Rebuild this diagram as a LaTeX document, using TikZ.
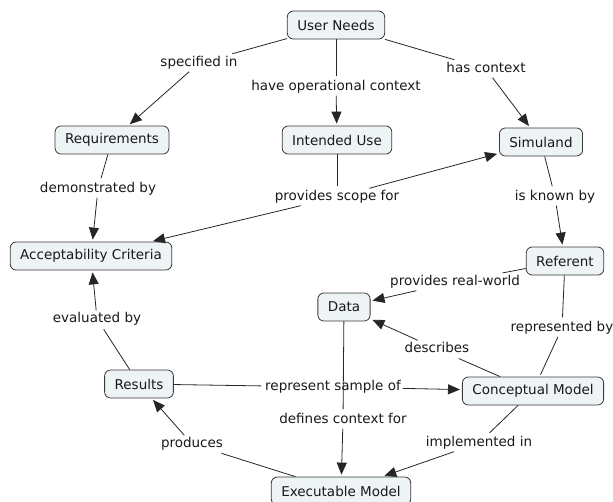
\documentclass[tikz,border=0pt]{standalone}
\usepackage{fontspec}
\setmainfont{DejaVu Sans}
\usetikzlibrary{arrows.meta}
\definecolor{conceptfill}{HTML}{EEF3F6}
\definecolor{conceptline}{HTML}{3A3A3A}
\definecolor{linkline}{HTML}{262626}

\begin{document}
\begin{tikzpicture}[x=1pt, y=-1pt, >={Triangle[length=12pt,width=10pt]},
    concept/.style={draw=conceptline, fill=conceptfill, rounded corners=6pt,
        inner xsep=10pt, minimum height=28pt, line width=0.8pt,
        font=\fontsize{13.5}{16}\selectfont, text=black!90},
    phrase/.style={inner sep=2pt, text height=10pt, text depth=3pt,
        font=\fontsize{13.5}{16}\selectfont, text=black!90},
    link/.style={draw=linkline, line width=0.8pt, shorten >=2pt}]
    \useasboundingbox (0,0) rectangle (613,501);
    % concepts
    \node[concept] (needs) at (336,25) {User Needs};
    \node[concept] (req) at (112,140) {Requirements};
    \node[concept] (use) at (337,140) {Intended Use};
    \node[concept] (simuland) at (541,142) {Simuland};
    \node[concept] (accept) at (91,256) {Acceptability Criteria};
    \node[concept] (referent) at (565,261) {Referent};
    \node[concept] (data) at (344,307) {Data};
    \node[concept] (results) at (139,384) {Results};
    \node[concept] (cmodel) at (533,391) {Conceptual Model};
    \node[concept] (exec) at (341,491) {Executable Model};
    % linking phrases
    \node[phrase] (specified) at (199,63) {specified in};
    \node[phrase] (operational) at (336,87) {have operational context};
    \node[phrase] (hascontext) at (486,69) {has context};
    \node[phrase] (demonstrated) at (98,189) {demonstrated by};
    \node[phrase] (scope) at (337,197) {provides scope for};
    \node[phrase] (knownby) at (555,197) {is known by};
    \node[phrase] (realworld) at (455,282) {provides real-world};
    \node[phrase] (evaluated) at (97,319) {evaluated by};
    \node[phrase] (represented) at (562,328) {represented by};
    \node[phrase] (describes) at (437,349) {describes};
    \node[phrase] (sample) at (333,387) {represent sample of};
    \node[phrase] (defines) at (343,420) {defines context for};
    \node[phrase] (produces) at (192,444) {produces};
    \node[phrase] (implemented) at (479,443) {implemented in};
    % connections
    \draw[link] (needs) -- (specified);
    \draw[link,->] (specified) -- (req);
    \draw[link] (needs) -- (operational);
    \draw[link,->] (operational) -- (use);
    \draw[link] (needs) -- (hascontext);
    \draw[link,->] (hascontext) -- (simuland);
    \draw[link] (req) -- (demonstrated);
    \draw[link,->] (demonstrated) -- (accept);
    \draw[link] (use) -- (scope);
    \draw[link,->] (scope) -- (simuland);
    \draw[link,->] (scope) -- (accept);
    \draw[link] (simuland) -- (knownby);
    \draw[link,->] (knownby) -- (referent);
    \draw[link] (referent) -- (realworld);
    \draw[link,->] (realworld) -- (data);
    \draw[link] (referent) -- (represented);
    \draw[link] (represented) -- (cmodel);
    \draw[link] (cmodel) -- (describes);
    \draw[link,->] (describes) -- (data);
    \draw[link] (results) -- (evaluated);
    \draw[link,->] (evaluated) -- (accept);
    \draw[link] (results) -- (sample);
    \draw[link,->] (sample) -- (cmodel);
    \draw[link] (data) -- (defines);
    \draw[link,->] (defines) -- (exec);
    \draw[link] (cmodel) -- (implemented);
    \draw[link,->] (implemented) -- (exec);
    \draw[link] (exec) -- (produces);
    \draw[link,->] (produces) -- (results);
\end{tikzpicture}
\end{document}
